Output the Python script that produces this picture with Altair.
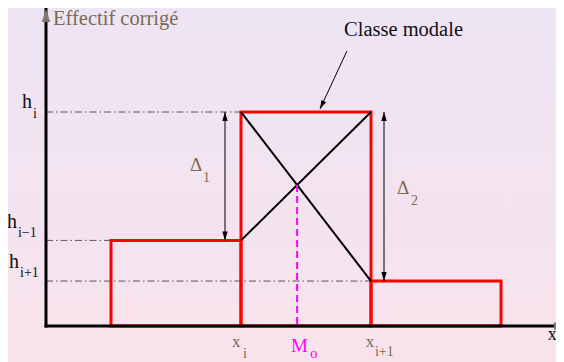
import altair as alt
import pandas as pd

# ---- data (chart units) ----
edges = [1, 3, 5, 7]            # class boundaries
heights = [4, 10, 2.1]          # h_{i-1}, h_i, h_{i+1}
delta_x = [2.754, 5.2]          # x of the Δ1 / Δ2 double arrows
note_from = [4.63, 12.85]       # "Classe modale" arrow start
note_to = [4.215, 10.14]        # "Classe modale" arrow tip

labels = ["Effectif corrigé", "Classe modale",
          "h", "i", "h", "i\u22121", "h", "i+1",
          "x", "i", "M", "o", "x", "i+1",
          "\u0394", "1", "\u0394", "2", "x"]
label_x = [0.108, 4.585, -0.369, -0.2, -0.6, -0.431, -0.569, -0.4,
           2.86, 3.03, 3.77, 4.06, 4.92, 5.06, 2.215, 2.415, 5.4, 5.615, 7.72]
label_y = [14.07, 13.55, 10.19, 9.72, 4.58, 4.16, 2.71, 2.29,
           -0.98, -1.5, -1.21, -1.5, -0.98, -1.4, 7.24, 6.73, 6.17, 5.65, -0.654]
label_size = [20.5, 20.5, 20, 14, 20, 14, 20, 14, 17, 14, 19, 15, 17, 14, 19, 14, 19, 14, 18]
BROWN = "#7c6a52"
label_color = [BROWN, "#111111", "#111111", "#111111", "#111111", "#111111", "#111111", "#111111",
               BROWN, BROWN, "#ff00ff", "#ff00ff", BROWN, BROWN, BROWN, BROWN, BROWN, BROWN, "#111111"]

# ---- geometry derived from data ----
h_prev, h_mod, h_next = heights
xi, xi1 = edges[1], edges[2]
d1, d2 = h_mod - h_prev, h_mod - h_next
t = d1 / (d1 + d2)
mode = xi + t * (xi1 - xi)
y_cross = h_prev + t * d1

XMAX = 510 / 65
YMAX = 318 / 21.4
xs = alt.Scale(domain=[0, XMAX], nice=False, zero=False)
ys = alt.Scale(domain=[0, YMAX], nice=False, zero=False)


def enc(**kw):
    out = {}
    for ch, f in kw.items():
        if ch == "x":
            out[ch] = alt.X(f, type="quantitative", scale=xs, axis=None)
        elif ch == "x2":
            out[ch] = alt.X2(f)
        elif ch == "y":
            out[ch] = alt.Y(f, type="quantitative", scale=ys, axis=None)
        elif ch == "y2":
            out[ch] = alt.Y2(f)
    return out


grad = alt.LinearGradient(
    gradient="linear",
    stops=[alt.GradientStop(color="#ede4f4", offset=0),
           alt.GradientStop(color="#f8e3eb", offset=1)],
    x1=0, x2=0, y1=0, y2=1)

bg = alt.Chart(pd.DataFrame({"a": [0]})).mark_rect(fill=grad).encode(
    x=alt.value(-38), x2=alt.value(510), y=alt.value(0), y2=alt.value(354))

bars_df = pd.DataFrame({"x": edges[:-1], "x2": edges[1:], "y": [0] * 3, "y2": heights})
bars = alt.Chart(bars_df).mark_rect(fill="transparent", stroke="#ff0000", strokeWidth=3).encode(
    **enc(x="x", x2="x2", y="y", y2="y2"))

guide_df = pd.DataFrame({"x": [0, 0, 0], "x2": [xi, xi, xi1], "y": heights, "y2": heights})
guides = alt.Chart(guide_df).mark_rule(color="#555555", strokeWidth=1, strokeDash=[7, 3, 1.5, 3]).encode(
    **enc(x="x", x2="x2", y="y", y2="y2"))

cross_df = pd.DataFrame({"x": [xi, xi], "x2": [xi1, xi1], "y": [h_mod, h_prev], "y2": [h_next, h_mod]})
cross = alt.Chart(cross_df).mark_rule(color="#000000", strokeWidth=2).encode(
    **enc(x="x", x2="x2", y="y", y2="y2"))

mode_df = pd.DataFrame({"x": [mode], "x2": [mode], "y": [y_cross], "y2": [0]})
mode_line = alt.Chart(mode_df).mark_rule(color="#ff00ff", strokeWidth=2, strokeDash=[7, 4]).encode(
    **enc(x="x", x2="x2", y="y", y2="y2"))

darr_df = pd.DataFrame({"x": delta_x, "x2": delta_x, "y": [h_mod, h_mod], "y2": [h_prev, h_next]})
darr = alt.Chart(darr_df).mark_rule(color="#000000", strokeWidth=1).encode(
    **enc(x="x", x2="x2", y="y", y2="y2"))

up_df = pd.DataFrame({"x": delta_x, "y": [h_mod, h_mod]})
up_heads = alt.Chart(up_df).mark_point(shape="M0,0L-0.3,1L0.3,1Z", filled=True, size=324,
                                       color="#000000", opacity=1).encode(**enc(x="x", y="y"))
down_df = pd.DataFrame({"x": delta_x, "y": [h_prev, h_next]})
down_heads = alt.Chart(down_df).mark_point(shape="M0,0L-0.3,-1L0.3,-1Z", filled=True, size=324,
                                           color="#000000", opacity=1).encode(**enc(x="x", y="y"))

note_df = pd.DataFrame({"x": [note_from[0]], "x2": [note_to[0]], "y": [note_from[1]], "y2": [note_to[1]]})
note_line = alt.Chart(note_df).mark_rule(color="#000000", strokeWidth=1).encode(
    **enc(x="x", x2="x2", y="y", y2="y2"))
note_head = alt.Chart(pd.DataFrame({"x": [note_to[0]], "y": [note_to[1]]})).mark_point(
    shape="M0,0L-0.3,1L0.3,1Z", filled=True, size=300, color="#000000", opacity=1, angle=205.7
).encode(**enc(x="x", y="y"))

axes_df = pd.DataFrame({"x": [0, 0], "x2": [0, 7.9], "y": [0, 0], "y2": [YMAX, 0]})
axes = alt.Chart(axes_df).mark_rule(color="#000000", strokeWidth=3, strokeCap="square").encode(
    **enc(x="x", x2="x2", y="y", y2="y2"))

yarrow = alt.Chart(pd.DataFrame({"x": [0], "y": [14.81]})).mark_point(
    shape="M0,0L-0.33,1L0.33,1Z", filled=True, size=676, color="#857870", opacity=1
).encode(**enc(x="x", y="y"))
xarrow = alt.Chart(pd.DataFrame({"x": [7.985], "y": [0]})).mark_point(
    shape="M0,0L-1,-0.36L-1,0.36Z", filled=True, size=484, color="#857870", opacity=1
).encode(**enc(x="x", y="y"))

text_df = pd.DataFrame({"label": labels, "x": label_x, "y": label_y,
                        "size": label_size, "color": label_color})
texts = alt.Chart(text_df).mark_text(font="Liberation Serif",
                                     align="left", baseline="alphabetic").encode(
    **enc(x="x", y="y"),
    text="label:N",
    size=alt.Size("size:Q", scale=None, legend=None),
    color=alt.Color("color:N", scale=None, legend=None))

chart = alt.layer(bg, guides, bars, cross, mode_line, darr, up_heads, down_heads,
                  note_line, note_head, axes, yarrow, xarrow, texts).properties(
    width=510, height=318,
    padding={"left": 38, "top": 0, "right": 0, "bottom": 36},
    autosize=alt.AutoSizeParams(type="none"),
    background="#f2e4ef",
).configure_view(stroke="transparent")

chart.save("out.html", embed_options={"renderer": "svg", "actions": False})
